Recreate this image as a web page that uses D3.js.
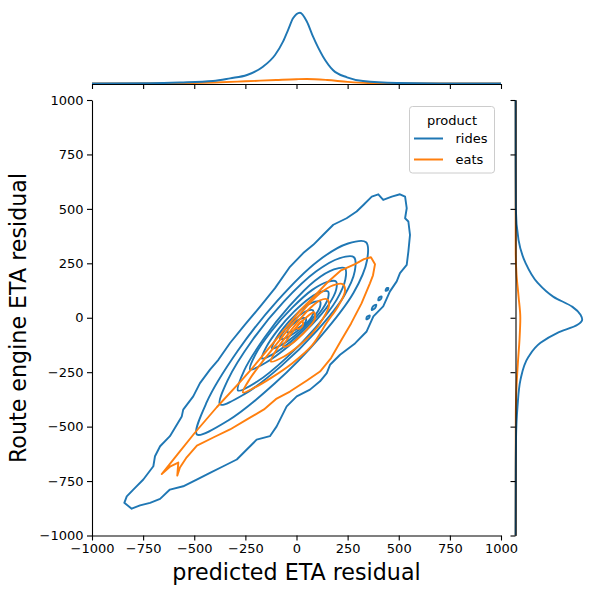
<!DOCTYPE html>
<html><head><meta charset="utf-8">
<script src="https://cdn.jsdelivr.net/npm/d3@7"></script>
<style>body{margin:0;background:#fff}text{font-family:"DejaVu Sans",sans-serif}</style>
</head><body><svg id="c" width="595" height="594"></svg>
<script>
const xTicks = [-1000,-750,-500,-250,0,250,500,750,1000];
const yTicks = [-1000,-750,-500,-250,0,250,500,750,1000];
const products = ["rides","eats"];
const colors = ["#1f77b4","#ff7f0e"];
const xLabel = "predicted ETA residual";
const yLabel = "Route engine ETA residual";
const legendTitle = "product";

// KDE iso-density contours for "rides" (outermost first)
const ridesOuter = [[-842,-850],[-830,-820],[-798,-789],[-749,-743],[-700,-682],[-692,-636],[-667,-590],[-619,-544],[-561,-453],[-554,-422],[-505,-361],[-472,-300],[-423,-238],[-382,-193],[-325,-116],[-252,-32],[-170,60],[-105,136],[-32,234],[33,297],[82,335],[131,381],[180,427],[245,457],[294,488],[327,518],[368,556],[400,567],[424,541],[466,556],[506,567],[531,556],[539,503],[531,457],[547,442],[555,381],[547,304],[539,243],[506,205],[490,167],[457,121],[424,52],[376,6],[343,-63],[286,-118],[213,-170],[164,-216],[148,-254],[115,-292],[66,-330],[1,-361],[-48,-407],[-97,-499],[-130,-544],[-195,-560],[-227,-590],[-292,-651],[-358,-682],[-423,-712],[-488,-743],[-554,-774],[-619,-789],[-667,-832],[-716,-850],[-765,-862],[-806,-877]];
const ridesLevel2 = [[-487,-536],[-439,-388],[-288,-153],[-93,79],[104,260],[252,341],[340,347],[345,264],[279,115],[112,-92],[-107,-302],[-336,-473]];
const ridesLevel3 = [[-374,-398],[-335,-284],[-216,-103],[-62,74],[95,212],[212,274],[281,278],[285,214],[232,99],[100,-59],[-74,-221],[-255,-351]];
const ridesLevel4 = [[-286,-334],[-255,-241],[-157,-92],[-34,54],[90,170],[183,222],[237,227],[239,176],[196,82],[90,-49],[-48,-183],[-192,-293]];
const ridesLevel5 = [[-227,-237],[-201,-169],[-122,-61],[-22,45],[77,128],[151,165],[193,167],[194,129],[158,61],[73,-34],[-38,-130],[-153,-208]];
const ridesLevel6 = [[-169,-187],[-148,-135],[-88,-52],[-12,28],[65,91],[121,120],[154,121],[155,92],[127,40],[62,-32],[-23,-106],[-111,-165]];
const ridesLevel7 = [[-120,-141],[-105,-104],[-62,-45],[-6,12],[49,56],[90,74],[115,75],[116,54],[96,17],[48,-34],[-13,-86],[-78,-127]];
const ridesLevel8 = [[-81,-99],[-71,-75],[-42,-38],[-4,-3],[35,24],[64,35],[81,34],[82,20],[69,-4],[36,-36],[-6,-68],[-51,-92]];
const ridesLevel9 = [[-46,-67],[-42,-54],[-25,-35],[-3,-18],[19,-5],[36,-1],[46,-3],[47,-11],[41,-24],[22,-39],[-2,-54],[-29,-65]];
const ridesIslands = [
  [[342,-7],[345,5],[358,10],[354,-2]],
  [[368,36],[374,52],[390,60],[384,44]],
  [[400,80],[404,93],[416,98],[413,86]],
  [[436,124],[439,134],[449,137],[446,127]]
];
// KDE iso-density contours for "eats"
const eatsOuter = [[-659,-718],[-579,-624],[-496,-527],[-390,-411],[-271,-290],[-216,-231],[-132,-136],[-49,-44],[17,34],[86,98],[152,163],[218,218],[286,246],[330,269],[364,278],[384,246],[374,195],[359,158],[318,66],[267,-26],[218,-104],[169,-185],[115,-247],[51,-288],[-32,-339],[-97,-371],[-159,-421],[-242,-467],[-325,-513],[-407,-550],[-487,-587],[-537,-641],[-570,-688],[-583,-725],[-578,-665],[-619,-684]];
const eatsLevel2 = [[-262,-343],[-227,-279],[-169,-205],[-95,-118],[-22,-30],[46,48],[115,112],[178,149],[227,154],[237,121],[203,52],[149,-21],[76,-127],[-22,-210],[-120,-274],[-203,-320]];
const eatsLevel3 = [[-125,-201],[-100,-150],[-46,-81],[12,-12],[71,48],[115,80],[149,85],[159,57],[130,-3],[76,-72],[7,-132],[-61,-178]];
const eatsLevel4 = [[-66,-132],[-42,-95],[-2,-44],[42,-3],[86,25],[90,-3],[56,-49],[7,-95],[-37,-127]];
const eatsLevel5 = [[2,-49],[12,-26],[27,-17],[32,-30],[17,-49]];

// Marginal KDE curves (density x 1e4)
const margXRides = [[-1000,0],[-716,0.1],[-570,0.35],[-408,0.87],[-325,1.81],[-242,2.97],[-164,5.86],[-105,9.95],[-66,14.59],[-40,18.9],[-17,22.75],[17,24.71],[51,21.57],[81,16.33],[130,9.35],[178,4.71],[247,2.16],[325,0.87],[491,0.17],[700,0.03],[1000,0]];
const margXEats = [[-1000,0],[-600,0.07],[-400,0.35],[-250,0.77],[-100,1.22],[0,1.5],[50,1.57],[150,1.22],[250,0.56],[350,0.17],[500,0.03],[1000,0]];
const margYRides = [[1000,0],[700,0.02],[505,0.1],[358,1.05],[252,3.49],[161,7.68],[96,13.26],[50,19.89],[14,22.69],[-9,23.28],[-32,21.64],[-69,14.66],[-115,8.73],[-179,4.54],[-284,1.75],[-408,0.7],[-560,0.17],[-700,0.07],[-1000,0]];
const margYEats = [[1000,0],[300,0.07],[200,0.35],[100,1.05],[0,1.68],[-100,1.4],[-200,0.87],[-300,0.42],[-450,0.1],[-1000,0]];

const ridesContours = [ridesOuter, ridesLevel2, ridesLevel3, ridesLevel4, ridesLevel5, ridesLevel6, ridesLevel7, ridesLevel8, ridesLevel9];
const eatsContours = [eatsOuter, eatsLevel2, eatsLevel3, eatsLevel4, eatsLevel5];

const svg = d3.select("#c");
const x = d3.scaleLinear([-1000,1000],[92,501]);
const y = d3.scaleLinear([-1000,1000],[535.5,100]);
const mx = d3.scaleLinear([0,26],[83.5,9]);
const my = d3.scaleLinear([0,26],[515.5,590]);
const fmt = d => d < 0 ? "\u2212" + Math.abs(d) : String(d);
const LW = 1.9;

const plot = svg.append("g");
const linPath = d3.line().x(d=>x(d[0])).y(d=>y(d[1])).curve(d3.curveLinearClosed);
const smPath = d3.line().x(d=>x(d[0])).y(d=>y(d[1])).curve(d3.curveCatmullRomClosed.alpha(0.5));

function drawSet(set, color, islands){
  set.forEach((c,i)=>{
    plot.append("path").attr("d", i===0 ? linPath(c) : smPath(c))
      .attr("fill","none").attr("stroke",color).attr("stroke-width",LW).attr("stroke-linejoin","round");
  });
  (islands||[]).forEach(c=>{
    plot.append("path").attr("d", smPath(c)).attr("fill","none").attr("stroke",color).attr("stroke-width",LW);
  });
}
drawSet(ridesContours, colors[0], ridesIslands);
drawSet(eatsContours, colors[1]);

// marginal curves (eats first, rides on top)
const lx = d3.line().x(d=>x(d[0])).y(d=>mx(d[1])).curve(d3.curveMonotoneX);
const ly = d3.line().x(d=>my(d[1])).y(d=>y(d[0])).curve(d3.curveMonotoneY);
svg.append("path").attr("d",lx(margXEats)).attr("fill","none").attr("stroke",colors[1]).attr("stroke-width",LW);
svg.append("path").attr("d",lx(margXRides)).attr("fill","none").attr("stroke",colors[0]).attr("stroke-width",LW);
svg.append("path").attr("d",ly(margYEats)).attr("fill","none").attr("stroke",colors[1]).attr("stroke-width",LW);
svg.append("path").attr("d",ly(margYRides)).attr("fill","none").attr("stroke",colors[0]).attr("stroke-width",LW);

// main axes
const gx = svg.append("g").attr("transform","translate(0,535.5)")
  .call(d3.axisBottom(x).tickValues(xTicks).tickSize(5).tickSizeOuter(0).tickPadding(3.5).tickFormat(fmt));
const gy = svg.append("g").attr("transform","translate(92,0)")
  .call(d3.axisLeft(y).tickValues(yTicks).tickSize(5).tickSizeOuter(0).tickPadding(3.5).tickFormat(fmt));
[gx,gy].forEach(g=>{
  g.selectAll("text").attr("font-size",13).attr("fill","#000").attr("font-family","DejaVu Sans");
  g.selectAll("line,path").attr("stroke","#000").attr("stroke-width",1.1);
});

// marginal spines drawn above curves
const gtx = svg.append("g").attr("transform","translate(0,84)")
  .call(d3.axisBottom(x).tickValues(xTicks).tickSize(5).tickSizeOuter(0).tickFormat(""));
const gry = svg.append("g").attr("transform","translate(515.5,0)")
  .call(d3.axisLeft(y).tickValues(yTicks).tickSize(5).tickSizeOuter(0).tickFormat(""));
[gtx,gry].forEach(g=>g.selectAll("line,path").attr("stroke","#000").attr("stroke-width",1.1));

// labels
svg.append("text").attr("x",296.5).attr("y",580).attr("text-anchor","middle").attr("font-size",22.2).text(xLabel);
svg.append("text").attr("transform","translate(26,318) rotate(-90)").attr("text-anchor","middle").attr("font-size",22.2).text(yLabel);

// legend
const lg = svg.append("g");
lg.append("rect").attr("x",409.5).attr("y",106.5).attr("width",85).attr("height",66.5).attr("rx",3)
  .attr("fill","#fff").attr("fill-opacity",0.8).attr("stroke","#cccccc").attr("stroke-width",1);
lg.append("text").attr("x",452).attr("y",124.5).attr("text-anchor","middle").attr("font-size",13).text(legendTitle);
products.forEach((p,i)=>{
  const yy = 138.5 + i*21;
  lg.append("line").attr("x1",414).attr("x2",443).attr("y1",yy).attr("y2",yy).attr("stroke",colors[i]).attr("stroke-width",2);
  lg.append("text").attr("x",455.5).attr("y",yy).attr("dy","0.35em").attr("font-size",13).text(p);
});
</script></body></html>
